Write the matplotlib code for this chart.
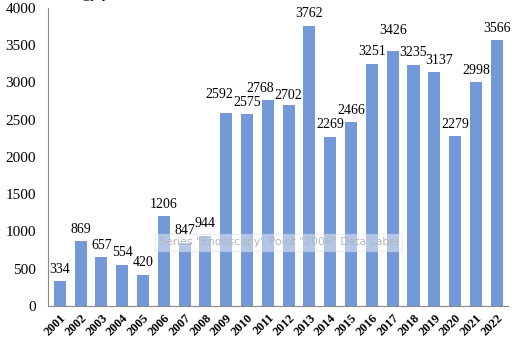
import matplotlib.pyplot as plt

years = [str(y) for y in range(2001, 2023)]
counts = [334, 869, 657, 554, 420, 1206, 847, 944, 2592, 2575, 2768, 2702,
          3762, 2269, 2466, 3251, 3426, 3235, 3137, 2279, 2998, 3566]

# labels that were dragged around in the original (dx, dy in px)
label_nudge = {'2009': (-7, 18), '2011': (-8, 11), '2012': (0, 9),
               '2017': (0, 20), '2019': (5, 12)}

plt.rcParams['font.family'] = ['Liberation Serif', 'DejaVu Serif']

fig = plt.figure(figsize=(5.25, 3.53), dpi=100)
ax = fig.add_axes([0.092, 0.133, 0.876, 0.845])

x = range(len(years))
ax.bar(x, counts, width=0.58, color='#7399d9')
for i, v in enumerate(counts):
    dx, dy = label_nudge.get(years[i], (0, 12))
    ax.annotate(str(v), (i, v), xytext=(dx * 0.72, dy * 0.72),
                textcoords='offset points', ha='center', va='center', fontsize=10)

ax.set_ylim(0, 4000)
ax.set_xlim(-0.55, len(years) - 0.45)
ax.set_yticks(range(0, 4001, 500))
ax.set_xticks(list(x))
ax.set_xticklabels(years, rotation=45, ha='right', rotation_mode='anchor',
                   fontweight='bold', fontsize=9)
ax.tick_params(axis='y', labelsize=11, length=0, pad=9)
ax.tick_params(axis='x', length=0, pad=4)
for s in ['top', 'right']:
    ax.spines[s].set_visible(False)
ax.spines['left'].set_color('#888888')
ax.spines['bottom'].set_color('#888888')

# title is cut off by the top edge, only descenders show
fig.text(-0.016, 1.005, 'Gastroenterology procedures', fontsize=11, va='baseline')

# hover tooltip left in the screenshot
fig.text(0.302, 0.314, 'Series "Endoscopy" Point "2006" Data Label',
         fontsize=7.8, family='DejaVu Sans', color='#b5b5b5', va='center',
         bbox=dict(facecolor='white', edgecolor='#d8d8d8', alpha=0.45, pad=2.5))

fig.savefig('out.png')
